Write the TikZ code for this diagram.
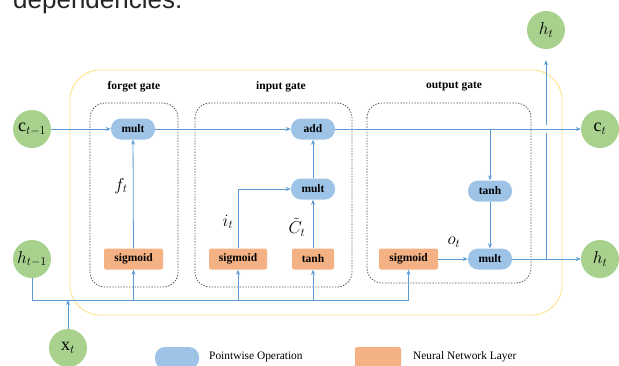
\documentclass[tikz,border=0pt]{standalone}
\usepackage{fontspec}
\setmainfont{Liberation Serif}
\newfontfamily\arialfont{Liberation Sans}
\usetikzlibrary{arrows.meta,calc}
\definecolor{pwblue}{HTML}{9DC3E6}
\definecolor{nnorange}{HTML}{F4B183}
\definecolor{circgreen}{HTML}{A9D18E}
\definecolor{linkblue}{HTML}{5B9BD5}
\definecolor{ybord}{HTML}{FFE38A}
\definecolor{dashgray}{HTML}{555555}
\begin{document}
\begin{tikzpicture}[x=1pt,y=-1pt,
  pw/.style={fill=pwblue, rounded corners=10pt, minimum width=44pt, minimum height=21pt, inner sep=0pt, font=\bfseries\fontsize{11.5}{12}\selectfont},
  nn/.style={fill=nnorange, rounded corners=2pt, minimum height=21pt, inner sep=0pt, font=\bfseries\fontsize{11.5}{12}\selectfont},
  circ/.style={circle, fill=circgreen, minimum size=38pt, inner sep=0pt, font=\fontsize{18}{19}\selectfont},
  link/.style={draw=linkblue, line width=0.8pt, -{Stealth[length=5pt,width=4pt]}},
  plainlink/.style={draw=linkblue, line width=0.8pt},
  dashbox/.style={draw=dashgray, line width=0.8pt, dash pattern=on 1.4pt off 1.4pt, rounded corners=15pt},
  gatelabel/.style={font=\bfseries\fontsize{11.5}{13}\selectfont, inner sep=0pt},
  mathlabel/.style={font=\fontsize{18}{19}\selectfont, inner sep=0pt},
  legendtext/.style={font=\fontsize{11.4}{13}\selectfont, anchor=west, inner sep=0pt}]
\useasboundingbox (0,0) rectangle (619,365);
\begin{scope}
\clip (0,0) rectangle (619,365);
\node[anchor=base west, inner sep=0pt, font=\arialfont\fontsize{26}{28}\selectfont, text=black!85] (dep) at (13,8) {dependencies.};

% outer box and gate boxes
\draw[ybord, line width=0.9pt, rounded corners=30pt] (70,70) rectangle (562,315);
\draw[dashbox] (90,103) rectangle (178,287);
\draw[dashbox] (195,103) rectangle (352,287);
\draw[dashbox] (367,103) rectangle (531,283);

\node[gatelabel] (fgl) at (134,87) {forget gate};
\node[gatelabel] (igl) at (281,87) {input gate};
\node[gatelabel] (ogl) at (454,87) {output gate};

% nodes
\node[circ] (cprev) at (32,129) {$\mathrm{c}_{t-1}$};
\node[pw] (fmult) at (133,129) {mult};
\node[pw] (add) at (313,129) {add};
\node[circ] (ct) at (600,129) {$\mathrm{c}_t$};
\node[circ] (htop) at (546,30) {$h_t$};
\node[pw] (imult) at (313,189) {mult};
\node[pw] (otanh) at (490,191) {tanh};
\node[nn, minimum width=59pt] (fsig) at (133.5,259) {sigmoid};
\node[nn, minimum width=58pt] (isig) at (238,259) {sigmoid};
\node[nn, minimum width=42pt] (itanh) at (313,259) {tanh};
\node[nn, minimum width=59pt] (osig) at (408.5,259) {sigmoid};
\node[pw] (omult) at (490,259) {mult};
\node[circ] (hright) at (600,259) {$h_t$};
\node[circ] (hprev) at (32,259) {$h_{t-1}$};
\node[circ] (xt) at (68,348) {$\mathrm{x}_t$};

\node[mathlabel] (flab) at (121,186) {$f_t$};
\node[mathlabel] (ilab) at (228,222) {$i_t$};
\node[mathlabel] (clab) at (297,227) {$\tilde{C}_t$};
\node[mathlabel] (olab) at (454,242) {$o_t$};

% connectors
\coordinate (bus) at (0,300);
\draw[link] (cprev) -- (fmult);
\draw[link] (fmult) -- (add);
\draw[link] (add) -- (ct);
\draw[link] (otanh.north |- add) -- (otanh.north);
\draw[link] (fsig) -- (fmult);
\draw[link] (isig.north) |- (imult.west);
\draw[link] (itanh) -- (imult);
\draw[link] (imult) -- (add);
\draw[link] (otanh) -- (omult);
\draw[link] (osig) -- (omult);
\draw[link] (omult) -- (hright);
\coordinate (hj) at (htop.south |- omult);
\draw[plainlink] (hj) -- ($(htop.south |- ct)+(0,4)$);
\draw[link] ($(htop.south |- ct)+(0,-4)$) -- ($(htop.south)+(0,11)$);
\draw[link] (hprev.south) |- (osig.south |- bus) -- (osig.south);
\draw[link] (fsig.south |- bus) -- (fsig.south);
\draw[link] (isig.south |- bus) -- (isig.south);
\draw[link] (itanh.south |- bus) -- (itanh.south);
\draw[link] (xt.north) -- (xt.north |- bus);

% legend
\node[pw, minimum width=44pt, minimum height=22pt] (lpw) at (177,358) {};
\node[legendtext] (lpwt) at (209,357) {Pointwise Operation};
\node[nn, minimum width=46pt, minimum height=22pt] (lnn) at (378,358) {};
\node[legendtext] (lnnt) at (413,357) {Neural Network Layer};
\end{scope}
\end{tikzpicture}
\end{document}
